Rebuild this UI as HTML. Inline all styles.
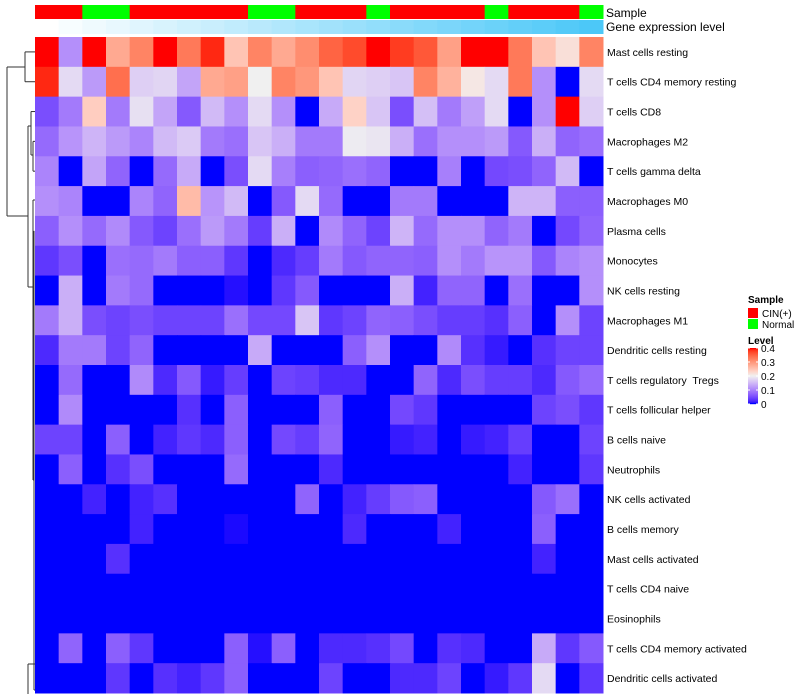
<!DOCTYPE html>
<html><head><meta charset="utf-8"><style>
body{margin:0;background:#fff;font-family:"Liberation Sans",sans-serif}
svg{display:block}
text{white-space:pre}
</style></head><body>
<svg id="chart" width="800" height="700" xmlns="http://www.w3.org/2000/svg"></svg>
<script>
const rowNames=["Mast cells resting","T cells CD4 memory resting","T cells CD8","Macrophages M2","T cells gamma delta","Macrophages M0","Plasma cells","Monocytes","NK cells resting","Macrophages M1","Dendritic cells resting","T cells regulatory  Tregs","T cells follicular helper","B cells naive","Neutrophils","NK cells activated","B cells memory","Mast cells activated","T cells CD4 naive","Eosinophils","T cells CD4 memory activated","Dendritic cells activated"];
const sampleGroups=["CIN(+)","CIN(+)","Normal","Normal","CIN(+)","CIN(+)","CIN(+)","CIN(+)","CIN(+)","Normal","Normal","CIN(+)","CIN(+)","CIN(+)","Normal","CIN(+)","CIN(+)","CIN(+)","CIN(+)","Normal","CIN(+)","CIN(+)","CIN(+)","Normal"];
const r01=[0.4,0.11,0.4,0.28,0.32,0.4,0.33,0.39,0.25,0.32,0.28,0.31,0.35,0.37,0.4,0.38,0.36,0.29,0.4,0.4,0.33,0.25,0.22,0.32];
const r02=[0.39,0.18,0.12,0.34,0.17,0.175,0.13,0.28,0.29,0.2,0.32,0.3,0.25,0.175,0.17,0.16,0.32,0.27,0.21,0.18,0.33,0.11,0,0.18];
const r03=[0.05,0.09,0.24,0.09,0.185,0.13,0.06,0.15,0.11,0.18,0.11,0,0.135,0.235,0.16,0.05,0.155,0.09,0.125,0.18,0,0.11,0.4,0.17];
const r04=[0.075,0.115,0.145,0.12,0.1,0.15,0.165,0.09,0.08,0.16,0.14,0.09,0.09,0.195,0.19,0.14,0.08,0.11,0.11,0.12,0.06,0.14,0.07,0.08];
const r05=[0.1,0,0.13,0.07,0,0.075,0.135,0,0.05,0.18,0.095,0.065,0.07,0.08,0.07,0,0,0.095,0,0.045,0.05,0.07,0.15,0];
const r06=[0.11,0.1,0,0,0.1,0.07,0.26,0.115,0.15,0,0.06,0.18,0.075,0,0,0.09,0.09,0,0,0,0.145,0.145,0.065,0.065];
const r07=[0.065,0.11,0.075,0.105,0.06,0.04,0.08,0.12,0.09,0.035,0.14,0,0.105,0.07,0.04,0.145,0.075,0.11,0.11,0.07,0.09,0,0.045,0.07];
const r08=[0.03,0.05,0,0.08,0.075,0.09,0.065,0.065,0.03,0,0.02,0.035,0.09,0.06,0.07,0.07,0.065,0.11,0.09,0.115,0.115,0.06,0.1,0.11];
const r09=[0,0.14,0,0.09,0.075,0,0,0,0.005,0,0.03,0.06,0,0,0,0.14,0.015,0.07,0.07,0,0.08,0,0,0.11];
const r10=[0.09,0.14,0.05,0.04,0.05,0.04,0.04,0.04,0.08,0.045,0.045,0.16,0.03,0.04,0.07,0.065,0.05,0.035,0.035,0.025,0.065,0,0.11,0.04];
const r11=[0.02,0.09,0.09,0.04,0.07,0,0,0,0,0.135,0,0,0,0.065,0.11,0,0,0.105,0.025,0.01,0,0.025,0.04,0.04];
const r12=[0,0.075,0,0,0.105,0.02,0.06,0.01,0.035,0,0.04,0.035,0.02,0.02,0,0,0.07,0.02,0.05,0.035,0.035,0.02,0.06,0.075];
const r13=[0,0.105,0,0,0,0,0.025,0,0.065,0,0,0,0.065,0,0,0.045,0.03,0,0,0,0,0.04,0.05,0.03];
const r14=[0.04,0.04,0,0.065,0,0.015,0.03,0.02,0.065,0,0.045,0.035,0.07,0,0,0.01,0.015,0,0.01,0.015,0.035,0,0,0.04];
const r15=[0,0.065,0,0.025,0.05,0,0,0,0.075,0,0,0,0.02,0,0,0,0,0,0,0,0.015,0,0,0.03];
const r16=[0,0,0.015,0,0.015,0.025,0,0,0,0,0,0.07,0,0.015,0.035,0.06,0.065,0,0,0,0,0.06,0.08,0];
const r17=[0,0,0,0,0.015,0,0,0,0.003,0,0,0,0,0.02,0,0,0,0.015,0,0,0,0.065,0,0];
const r18=[0,0,0,0.025,0,0,0,0,0,0,0,0,0,0,0,0,0,0,0,0,0,0.015,0,0];
const r19=[0,0,0,0,0,0,0,0,0,0,0,0,0,0,0,0,0,0,0,0,0,0,0,0];
const r20=[0,0,0,0,0,0,0,0,0,0,0,0,0,0,0,0,0,0,0,0,0,0,0,0];
const r21=[0,0.07,0,0.065,0.03,0,0,0,0.065,0.005,0.065,0,0.02,0.02,0.025,0.045,0,0.025,0.02,0,0,0.135,0.03,0.06];
const r22=[0,0,0,0.03,0,0.025,0.015,0.03,0.065,0,0,0,0.04,0,0,0.02,0.02,0.04,0,0.01,0.03,0.18,0,0.03];
const values=[r01,r02,r03,r04,r05,r06,r07,r08,r09,r10,r11,r12,r13,r14,r15,r16,r17,r18,r19,r20,r21,r22];
const legendTicks=[0,0.1,0.2,0.3,0.4];

const NS="http://www.w3.org/2000/svg";
const svg=document.getElementById('chart');
function mk(tag,attrs,parent){const e=document.createElementNS(NS,tag);for(const k in attrs)e.setAttribute(k,attrs[k]);(parent||svg).appendChild(e);return e;}
function toLin(c){c/=255;return c<=0.04045?c/12.92:Math.pow((c+0.055)/1.055,2.4);}
function fromLin(c){c=c<=0.0031308?12.92*c:1.055*Math.pow(c,1/2.4)-0.055;return Math.max(0,Math.min(255,Math.round(c*255)));}
function rgb2lab(r,g,b){r=toLin(r);g=toLin(g);b=toLin(b);let x=(0.4124*r+0.3576*g+0.1805*b)/0.95047,y=0.2126*r+0.7152*g+0.0722*b,z=(0.0193*r+0.1192*g+0.9505*b)/1.08883;const f=t=>t>0.008856?Math.cbrt(t):7.787*t+16/116;x=f(x);y=f(y);z=f(z);return[116*y-16,500*(x-y),200*(y-z)];}
function lab2rgb(L,a,b){let y=(L+16)/116,x=a/500+y,z=y-b/200;const f=t=>t*t*t>0.008856?t*t*t:(t-16/116)/7.787;x=f(x)*0.95047;y=f(y);z=f(z)*1.08883;const r=3.2406*x-1.5372*y-0.4986*z,g=-0.9689*x+1.8758*y+0.0415*z,bb=0.0557*x-0.2040*y+1.0570*z;return`rgb(${fromLin(r)},${fromLin(g)},${fromLin(bb)})`;}
const cBlue=rgb2lab(0,0,255),cWhite=rgb2lab(240,240,240),cRed=rgb2lab(255,0,0);
function color(v){v=Math.max(0,Math.min(0.4,v));let a,b,t;if(v<=0.2){a=cBlue;b=cWhite;t=v/0.2;}else{a=cWhite;b=cRed;t=(v-0.2)/0.2;}return lab2rgb(a[0]+(b[0]-a[0])*t,a[1]+(b[1]-a[1])*t,a[2]+(b[2]-a[2])*t);}

const X0=35,X1=603,Y0=37,Y1=693;
const nCol=sampleGroups.length,nRow=rowNames.length;
const cw=(X1-X0)/nCol,rh=(Y1-Y0)/nRow;
const xPos=i=>X0+i*cw, yPos=j=>Y0+j*rh;

sampleGroups.forEach((g,i)=>{
  const r=mk('rect',{x:xPos(i),y:5,width:cw+0.5,height:14,fill:g==="Normal"?"#00ff00":"#ff0000"});
  
  
});
for(let i=0;i<nCol;i++){
  const t=i/(nCol-1);
  const r=mk('rect',{x:xPos(i),y:20,width:cw+0.5,height:14,fill:`rgb(${Math.round(255-179*t)},${Math.round(255-55*t)},${Math.round(255-7*t)})`});
  
  
}
let t1=mk('text',{x:606,y:17,'font-size':12,fill:'#000'});t1.textContent='Sample';

let t2=mk('text',{x:606,y:31,'font-size':12,fill:'#000'});t2.textContent='Gene expression level';


values.forEach((row,j)=>{
  row.forEach((v,i)=>{
    const r=mk('rect',{x:xPos(i),y:yPos(j),width:cw+0.5,height:rh+0.5,fill:color(v)});
    
    
  });
  const t=mk('text',{x:607,y:yPos(j)+rh/2+4,'font-size':10.5,fill:'#000'});
  t.textContent=rowNames[j];
  
  
});

const dg=mk('g',{stroke:'#333','stroke-width':1,fill:'none'});

const rc=j=>yPos(j)+rh/2;
const segs=[
 [7,67,7,216],[7,67,25,67],[25,rc(0),25,rc(1)],[25,rc(0),35,rc(0)],[25,rc(1),35,rc(1)],
 [7,216,28,216],[28,126,28,287],[28,126,31,126],[31,rc(2),31,155],[31,rc(2),35,rc(2)],[31,155,33,155],[33,rc(3),33,rc(4)],[33,rc(3),35,rc(3)],[33,rc(4),35,rc(4)],
 [28,287,33,287],[33,200,33,480],[33,200,35,200],[33,480,34,480],[34,rc(6),34,690],[34,690,35,690],
 [28,664,28,694],[28,664,35,664]
];
segs.forEach(s=>mk('line',{x1:s[0],y1:s[1],x2:s[2],y2:s[3]},dg));

const lg=mk('g',{});
let lt=mk('text',{x:748,y:303,'font-size':10,'font-weight':'bold'},lg);lt.textContent='Sample';
mk('rect',{x:748,y:308,width:10,height:10,fill:'#ff0000'},lg);
let a1=mk('text',{x:762,y:317,'font-size':10},lg);a1.textContent='CIN(+)';

mk('rect',{x:748,y:319,width:10,height:10,fill:'#00ff00'},lg);
let a2=mk('text',{x:762,y:328,'font-size':10},lg);a2.textContent='Normal';

let lv=mk('text',{x:748,y:344,'font-size':10,'font-weight':'bold'},lg);lv.textContent='Level';
const cbTop=348,cbBot=404;
for(let k=0;k<56;k++){const v=0.4-0.4*k/55;mk('rect',{x:748,y:cbTop+k,width:10,height:1.2,fill:color(v)},lg);}
legendTicks.forEach(v=>{
  const y=cbBot-(v/0.4)*(cbBot-cbTop);
  mk('line',{x1:748,y1:y,x2:750,y2:y,stroke:'#fff'},lg);mk('line',{x1:756,y1:y,x2:758,y2:y,stroke:'#fff'},lg);
  const t=mk('text',{x:761,y:y+4,'font-size':10},lg);t.textContent=String(v);
  
});
</script>
</body></html>
